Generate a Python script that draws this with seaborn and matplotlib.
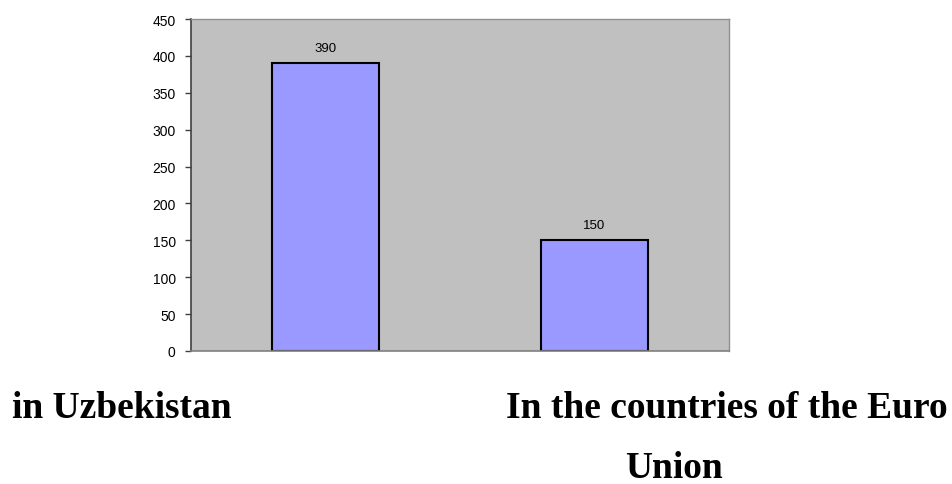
import matplotlib
matplotlib.use("Agg")
import matplotlib.pyplot as plt
import seaborn as sns
import pandas as pd

categories = ["in Uzbekistan", "In the countries of the Euro Union"]
values = [390, 150]
yticks = [0, 50, 100, 150, 200, 250, 300, 350, 400, 450]

sns.set_style("white")
plt.rcParams['font.family'] = ['Liberation Sans', 'DejaVu Sans']
plt.rcParams['text.color'] = 'black'
plt.rcParams['ytick.labelcolor'] = 'black'

df = pd.DataFrame({"cat": categories, "val": values})

fig = plt.figure(figsize=(9.53, 4.85), dpi=100)
ax = fig.add_axes([191/953, 1 - 352/485, (729 - 191)/953, (352 - 20)/485])
ax.set_facecolor("#C0C0C0")
sns.barplot(data=df, x="cat", y="val", ax=ax, color="#9999FF", saturation=1,
            width=0.4, edgecolor="black", linewidth=1.5)
ax.set_xlim(-0.5, 1.5)
ax.set_ylim(0, 450)
ax.set_yticks(yticks)
ax.set_yticklabels([str(t) for t in yticks], fontsize=10, color="black")
ax.set_xticks([])
ax.set_xlabel("")
ax.set_ylabel("")
ax.tick_params(axis="y", length=4, width=1, color="#404040", pad=7, left=True)
for s in ["top", "right"]:
    ax.spines[s].set_color("#909090")
    ax.spines[s].set_linewidth(1)
ax.spines["left"].set_color("#404040")
ax.spines["left"].set_linewidth(1.2)
ax.spines["bottom"].set_color("#808080")
ax.spines["bottom"].set_linewidth(1.2)

for i, v in enumerate(values):
    ax.annotate(str(v), xy=(i, v), xytext=(0, 11), textcoords="offset points",
                ha="center", va="center", fontsize=9.5, color="black")

serif = ['Liberation Serif', 'DejaVu Serif']
fig.text(121.5/953, 1 - 418/485, categories[0], ha="center", va="baseline",
         fontsize=27, fontweight="bold", family=serif, color="black")
fig.text(726.5/953, 1 - 418/485, "In the countries of the Euro", ha="center", va="baseline",
         fontsize=27, fontweight="bold", family=serif, color="black")
fig.text(674.5/953, 1 - 478/485, "Union", ha="center", va="baseline",
         fontsize=27, fontweight="bold", family=serif, color="black")

fig.savefig("out.png", dpi=100)
